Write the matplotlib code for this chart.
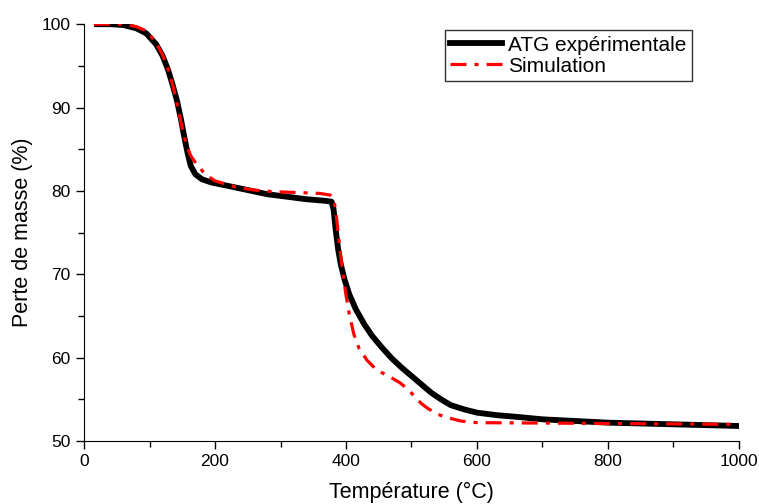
import matplotlib.pyplot as plt

plt.rcParams['font.family'] = ['Liberation Sans', 'DejaVu Sans']

t_exp = [20, 40, 60, 80, 95, 110, 120, 128, 135, 142, 148, 153, 158, 163, 170,
         180, 195, 220, 250, 280, 310, 340, 370, 378, 381, 384, 388, 392, 398,
         405, 415, 428, 440, 455, 470, 485, 500, 515, 530, 545, 560, 580, 600,
         630, 660, 700, 750, 800, 850, 900, 950, 1000]
m_exp = [100, 100, 99.9, 99.5, 98.9, 97.6, 96.2, 94.6, 92.8, 90.8, 88.6, 86.5,
         84.6, 83.0, 82.0, 81.4, 81.0, 80.6, 80.1, 79.6, 79.3, 79.0, 78.8, 78.7,
         77.8, 75.5, 73.0, 71.2, 69.3, 67.6, 65.8, 64.0, 62.6, 61.2, 59.9, 58.8,
         57.8, 56.8, 55.8, 55.0, 54.3, 53.8, 53.4, 53.1, 52.9, 52.6, 52.4, 52.2,
         52.1, 52.0, 51.9, 51.8]

# simulated curve
t_sim = [15, 40, 60, 80, 95, 110, 120, 130, 138, 145, 150, 156, 163, 172, 185,
         200, 230, 260, 290, 330, 360, 376, 382, 386, 390, 395, 400, 405, 412,
         420, 432, 447, 465, 482, 495, 505, 515, 525, 540, 555, 575, 600, 700,
         800, 900, 990]
m_sim = [100, 100, 100, 99.7, 99.2, 97.8, 96.3, 94.3, 91.9, 89.4, 87.5, 85.6,
         84.2, 83.2, 82.0, 81.2, 80.5, 80.1, 79.9, 79.8, 79.7, 79.5, 78.8, 76.5,
         73.5, 70.2, 67.5, 65.2, 62.8, 61.1, 59.7, 58.5, 57.8, 57.0, 56.2, 55.3,
         54.5, 53.9, 53.2, 52.8, 52.4, 52.2, 52.15, 52.1, 52.05, 52.0]

fig = plt.figure(figsize=(7.59, 5.04), dpi=100)
ax = fig.add_axes([0.1107, 0.125, 0.8629, 0.827])

ax.plot(t_exp, m_exp, color='black', lw=4.2, label='ATG expérimentale',
        solid_joinstyle='round')
ax.plot(t_sim, m_sim, color='red', lw=2.3, linestyle=(0, (5, 2.5, 1.3, 2.5)),
        label='Simulation')

ax.set_xlim(0, 1000)
ax.set_ylim(50, 100)
ax.set_xticks(range(0, 1001, 200))
ax.set_xticks(range(100, 1000, 200), minor=True)
ax.set_yticks(range(50, 101, 10))
ax.set_yticks(range(55, 100, 10), minor=True)
ax.spines['top'].set_visible(False)
ax.spines['right'].set_visible(False)
ax.tick_params(which='major', direction='out', length=6, width=1, labelsize=12.5)
ax.tick_params(which='minor', direction='out', length=4, width=1)

ax.set_xlabel('Température (°C)', fontsize=15.5, labelpad=9)
ax.set_ylabel('Perte de masse (%)', fontsize=15.5, labelpad=6)

leg = ax.legend(loc='upper left', bbox_to_anchor=(0.551, 0.985), fontsize=15,
                frameon=True, fancybox=False, edgecolor='black',
                handlelength=2.5, borderpad=0.25, labelspacing=0.1,
                handletextpad=0.3, borderaxespad=0)
leg.get_frame().set_linewidth(1)

fig.savefig('out.png', dpi=100)
